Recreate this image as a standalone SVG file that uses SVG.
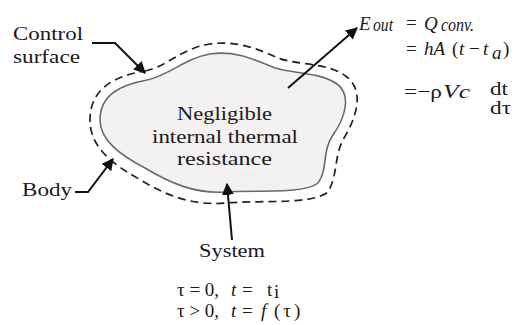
<svg xmlns="http://www.w3.org/2000/svg" width="515" height="325" viewBox="0 0 515 325">
<style>
.t{font-family:"Liberation Serif","Times New Roman",serif;fill:#1a1a1a;font-size:19px}
.i{font-style:italic}
.ln{fill:none;stroke:#111;stroke-width:2}
</style>
<defs>
<marker id="ah2" viewBox="0 0 10 10" refX="9" refY="5" markerWidth="12" markerHeight="12" orient="auto" markerUnits="userSpaceOnUse">
<path d="M0,0 L10,5 L0,10 z" fill="#111"/>
</marker>
</defs>
<rect width="515" height="325" fill="#fff"/>
<g id="body">
<path d="M147,80 C170,75 185,58 210,54 C235,50 255,60 275,68 C295,74 320,72 337,84 C352,95 345,118 333,135 C322,150 328,170 318,183 C305,194 260,190 225,192 C195,194 170,183 145,168 C120,155 100,140 100,120 C100,95 120,85 147,80 Z" fill="#f3f1f1" stroke="#6a6a6a" stroke-width="1.6"/>
</g>
<g id="control-surface">
<path d="M145,71 C168,66 182,48 210,44 C238,40 260,50 278,58 C300,66 328,62 347,77 C365,92 356,118 344,138 C334,155 338,175 328,192 C312,205 262,200 225,203 C192,206 165,195 139,179 C112,164 90,147 90,120 C90,88 115,76 145,71 Z" fill="none" stroke="#222" stroke-width="1.7" stroke-dasharray="8,5"/>
</g>
<g id="connectors">
<path class="ln" d="M92,43 L115,43 L145,73" marker-end="url(#ah2)"/>
<path class="ln" d="M75,192 L88,192 L113,159" marker-end="url(#ah2)"/>
<path class="ln" d="M232,240 L227,184" marker-end="url(#ah2)"/>
<path class="ln" d="M288,88 L357,28" marker-end="url(#ah2)"/>
</g>
<g id="labels">
<text class="t" x="13" y="40" font-size="20" textLength="70" lengthAdjust="spacingAndGlyphs">Control</text>
<text class="t" x="13" y="63" font-size="20" textLength="67" lengthAdjust="spacingAndGlyphs">surface</text>
<text class="t" x="22" y="196" textLength="50" lengthAdjust="spacingAndGlyphs">Body</text>
<text class="t" x="177" y="120" font-size="20" textLength="95" lengthAdjust="spacingAndGlyphs">Negligible</text>
<text class="t" x="152" y="143" font-size="20" textLength="146" lengthAdjust="spacingAndGlyphs">internal thermal</text>
<text class="t" x="177" y="165" font-size="20" textLength="95" lengthAdjust="spacingAndGlyphs">resistance</text>
<text class="t" x="199" y="257" textLength="66" lengthAdjust="spacingAndGlyphs">System</text>
<text class="t" x="177" y="296" font-size="18">τ = 0,</text>
<text class="t i" x="231" y="296" font-size="18">t</text>
<text class="t" x="242" y="296" font-size="18">=</text>
<text class="t" x="267" y="296" font-size="18">t</text>
<text class="t" x="274" y="298" font-size="10">i</text>
<text class="t" x="177" y="317" font-size="18">τ &gt; 0,</text>
<text class="t i" x="231" y="317" font-size="18">t</text>
<text class="t" x="242" y="317" font-size="18">=</text>
<text class="t i" x="261" y="317" font-size="18">f</text>
<text class="t" x="274" y="317" font-size="19" letter-spacing="3">(τ)</text>
</g>
<g id="equations">
<text class="t i" x="359" y="30" font-size="20">E</text>
<text class="t i" x="373" y="31" font-size="13" textLength="20" lengthAdjust="spacingAndGlyphs">out</text>
<text class="t" x="406" y="29">=</text>
<text class="t i" x="424" y="30" font-size="21">Q</text>
<text class="t i" x="441" y="31" font-size="13" textLength="33" lengthAdjust="spacingAndGlyphs">conv.</text>
<text class="t" x="406" y="55">=</text>
<text class="t i" x="424" y="55" font-size="20">hA</text>
<text class="t" x="452" y="55" font-size="20">(</text>
<text class="t i" x="459" y="55" font-size="20">t</text>
<text class="t" x="469" y="55" font-size="20">−</text>
<text class="t i" x="483" y="55" font-size="20">t</text>
<text class="t i" x="492" y="59" font-size="12">a</text>
<text class="t" x="503" y="55" font-size="20">)</text>
<text class="t" x="404" y="98" font-size="20" textLength="38" lengthAdjust="spacingAndGlyphs">=−ρ</text>
<text class="t i" x="443" y="98" font-size="20" textLength="27" lengthAdjust="spacingAndGlyphs">Vc</text>
<text class="t" x="490" y="95" font-size="16" textLength="18" lengthAdjust="spacingAndGlyphs">dt</text>
<text class="t" x="490" y="114" font-size="16" textLength="21" lengthAdjust="spacingAndGlyphs">dτ</text>
</g>
</svg>
